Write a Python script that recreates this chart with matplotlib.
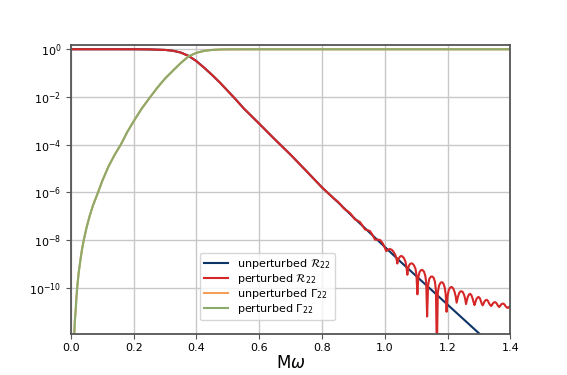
import numpy as np
import matplotlib
matplotlib.use("Agg")
from matplotlib import pyplot as plt
from matplotlib.ticker import FixedLocator, NullLocator

# unperturbed reflectivity, log10 values
x_base = [0.00, 0.10, 0.20, 0.25, 0.30, 0.325, 0.35, 0.375, 0.40, 0.425, 0.45, 0.475,
          0.50, 0.525, 0.55, 0.60, 0.65, 0.70, 0.75, 0.80, 0.84, 0.85, 0.90, 0.95,
          1.00, 1.05, 1.10, 1.15, 1.20, 1.25, 1.30, 1.35]
logR_base = [-0.002, -0.002, -0.003, -0.008, -0.03, -0.065, -0.14, -0.28, -0.5, -0.78, -1.08, -1.4,
             -1.75, -2.1, -2.47, -3.12, -3.78, -4.42, -5.1, -5.79, -6.28, -6.4, -7.04, -7.66,
             -8.28, -8.9, -9.5, -10.1, -10.7, -11.3, -11.9, -12.5]

# perturbed reflectivity beyond M*omega ~ 0.84 (echo oscillations)
x_osc = [0.840, 0.849, 0.857, 0.865, 0.873, 0.881, 0.889, 0.897, 0.905, 0.913, 0.921, 0.929,
         0.937, 0.945, 0.953, 0.961, 0.969, 0.977, 0.985, 0.994,
         1.005, 1.010, 1.016, 1.022, 1.027, 1.033, 1.037,
         1.040, 1.043, 1.048, 1.052, 1.056, 1.061, 1.066, 1.069,
         1.072, 1.075, 1.079, 1.084, 1.088, 1.093, 1.098, 1.101,
         1.104, 1.107, 1.111, 1.116, 1.120, 1.125, 1.129, 1.132,
         1.135, 1.138, 1.142, 1.147, 1.151, 1.156, 1.160, 1.163,
         1.166, 1.169, 1.173, 1.178, 1.183, 1.187, 1.191, 1.194,
         1.197, 1.200, 1.204, 1.209, 1.213, 1.218, 1.222, 1.226,
         1.229, 1.233, 1.237, 1.241, 1.245, 1.249, 1.253, 1.256,
         1.259, 1.262, 1.265, 1.269, 1.272, 1.276, 1.280, 1.283,
         1.286, 1.289, 1.292, 1.296, 1.299, 1.303, 1.306, 1.309,
         1.312, 1.315, 1.318, 1.322, 1.325, 1.329, 1.332, 1.336,
         1.339, 1.342, 1.345, 1.349, 1.352, 1.356, 1.359, 1.362,
         1.365, 1.368, 1.371, 1.375, 1.378, 1.382, 1.385, 1.389,
         1.392, 1.396, 1.400]
logR_osc = [-6.28, -6.37, -6.47, -6.60, -6.71, -6.78, -6.86, -6.99, -7.13, -7.18, -7.24, -7.39,
            -7.55, -7.58, -7.62, -7.78, -7.98, -7.98, -7.99, -8.14,
            -8.46, -8.40, -8.37, -8.40, -8.47, -8.60, -8.75,
            -8.98, -8.80, -8.70, -8.66, -8.68, -8.75, -8.90, -9.10,
            -9.45, -9.15, -9.02, -8.97, -8.98, -9.05, -9.20, -9.45,
            -10.27, -9.55, -9.33, -9.25, -9.25, -9.32, -9.48, -9.75,
            -11.2, -9.90, -9.62, -9.53, -9.52, -9.58, -9.75, -10.10,
            -12.8, -10.20, -9.90, -9.78, -9.76, -9.82, -9.98, -10.25,
            -11.0, -10.35, -10.08, -9.98, -9.96, -10.02, -10.15, -10.35,
            -10.62, -10.38, -10.22, -10.15, -10.14, -10.18, -10.30, -10.45,
            -10.68, -10.50, -10.36, -10.27, -10.25, -10.30, -10.45, -10.60,
            -10.72, -10.60, -10.47, -10.40, -10.38, -10.43, -10.55, -10.66,
            -10.73, -10.66, -10.56, -10.51, -10.50, -10.55, -10.64, -10.72,
            -10.76, -10.71, -10.64, -10.60, -10.60, -10.64, -10.71, -10.77,
            -10.80, -10.75, -10.69, -10.66, -10.66, -10.70, -10.77, -10.82,
            -10.84, -10.80, -10.78]

# greybody factor (unperturbed and perturbed overlap)
x_gam = [0.009, 0.011, 0.0125, 0.015, 0.0175, 0.02, 0.025, 0.03, 0.035, 0.041, 0.05, 0.06,
         0.07, 0.0865, 0.10, 0.12, 0.14, 0.159, 0.18, 0.20, 0.225, 0.253, 0.275, 0.30,
         0.325, 0.35, 0.375, 0.40, 0.425, 0.45, 0.475, 0.50, 0.60, 1.40]
logG = [-13.0, -11.9, -11.4, -11.0, -10.45, -10.0, -9.35, -8.87, -8.42, -8.0, -7.47, -6.98,
        -6.56, -6.0, -5.52, -4.91, -4.41, -4.0, -3.46, -3.02, -2.5, -2.0, -1.62, -1.23,
        -0.9, -0.58, -0.3, -0.15, -0.07, -0.03, -0.012, -0.006, -0.003, -0.003]

x_base = np.array(x_base)
cut = x_base < 0.84
x_pert = np.concatenate([x_base[cut], x_osc])
logR_pert = np.concatenate([np.array(logR_base)[cut], logR_osc])

plt.rcParams['font.family'] = 'DejaVu Sans'
fig, ax = plt.subplots(figsize=(5.67, 3.75), dpi=100)

ax.plot(x_base, 10.0 ** np.array(logR_base), c='#0d3466', lw=1.5, label=r'unperturbed $\mathcal{R}_{22}$')
ax.plot(x_pert, 10.0 ** logR_pert, c='#d62728', lw=1.5, label=r'perturbed $\mathcal{R}_{22}$')
ax.plot(x_gam, 10.0 ** np.array(logG), c='#f5a05a', lw=1.5, label=r'unperturbed $\Gamma_{22}$')
ax.plot(x_gam, 10.0 ** np.array(logG), c='#8aab6b', lw=1.5, label=r'perturbed $\Gamma_{22}$')

ax.set_yscale('log')
ax.set_xlim(0, 1.4)
ax.set_ylim(1.2e-12, 1.5)
ax.yaxis.set_major_locator(FixedLocator([1e0, 1e-2, 1e-4, 1e-6, 1e-8, 1e-10]))
ax.yaxis.set_minor_locator(NullLocator())
ax.set_xticks([0.0, 0.2, 0.4, 0.6, 0.8, 1.0, 1.2, 1.4])
ax.tick_params(labelsize=8, color='#555555')
ax.grid(True, color='#c8c8c8', lw=1.0)
for s in ax.spines.values():
    s.set_color('#555555')
    s.set_linewidth(1.3)

ax.set_xlabel(r'M$\omega$', fontsize=12, labelpad=0.5)
ax.legend(loc='lower left', bbox_to_anchor=(0.281, 0.028), fontsize=8, framealpha=0.8,
          labelspacing=0.1, borderpad=0.35, handlelength=2.2)

plt.savefig('out.png')
